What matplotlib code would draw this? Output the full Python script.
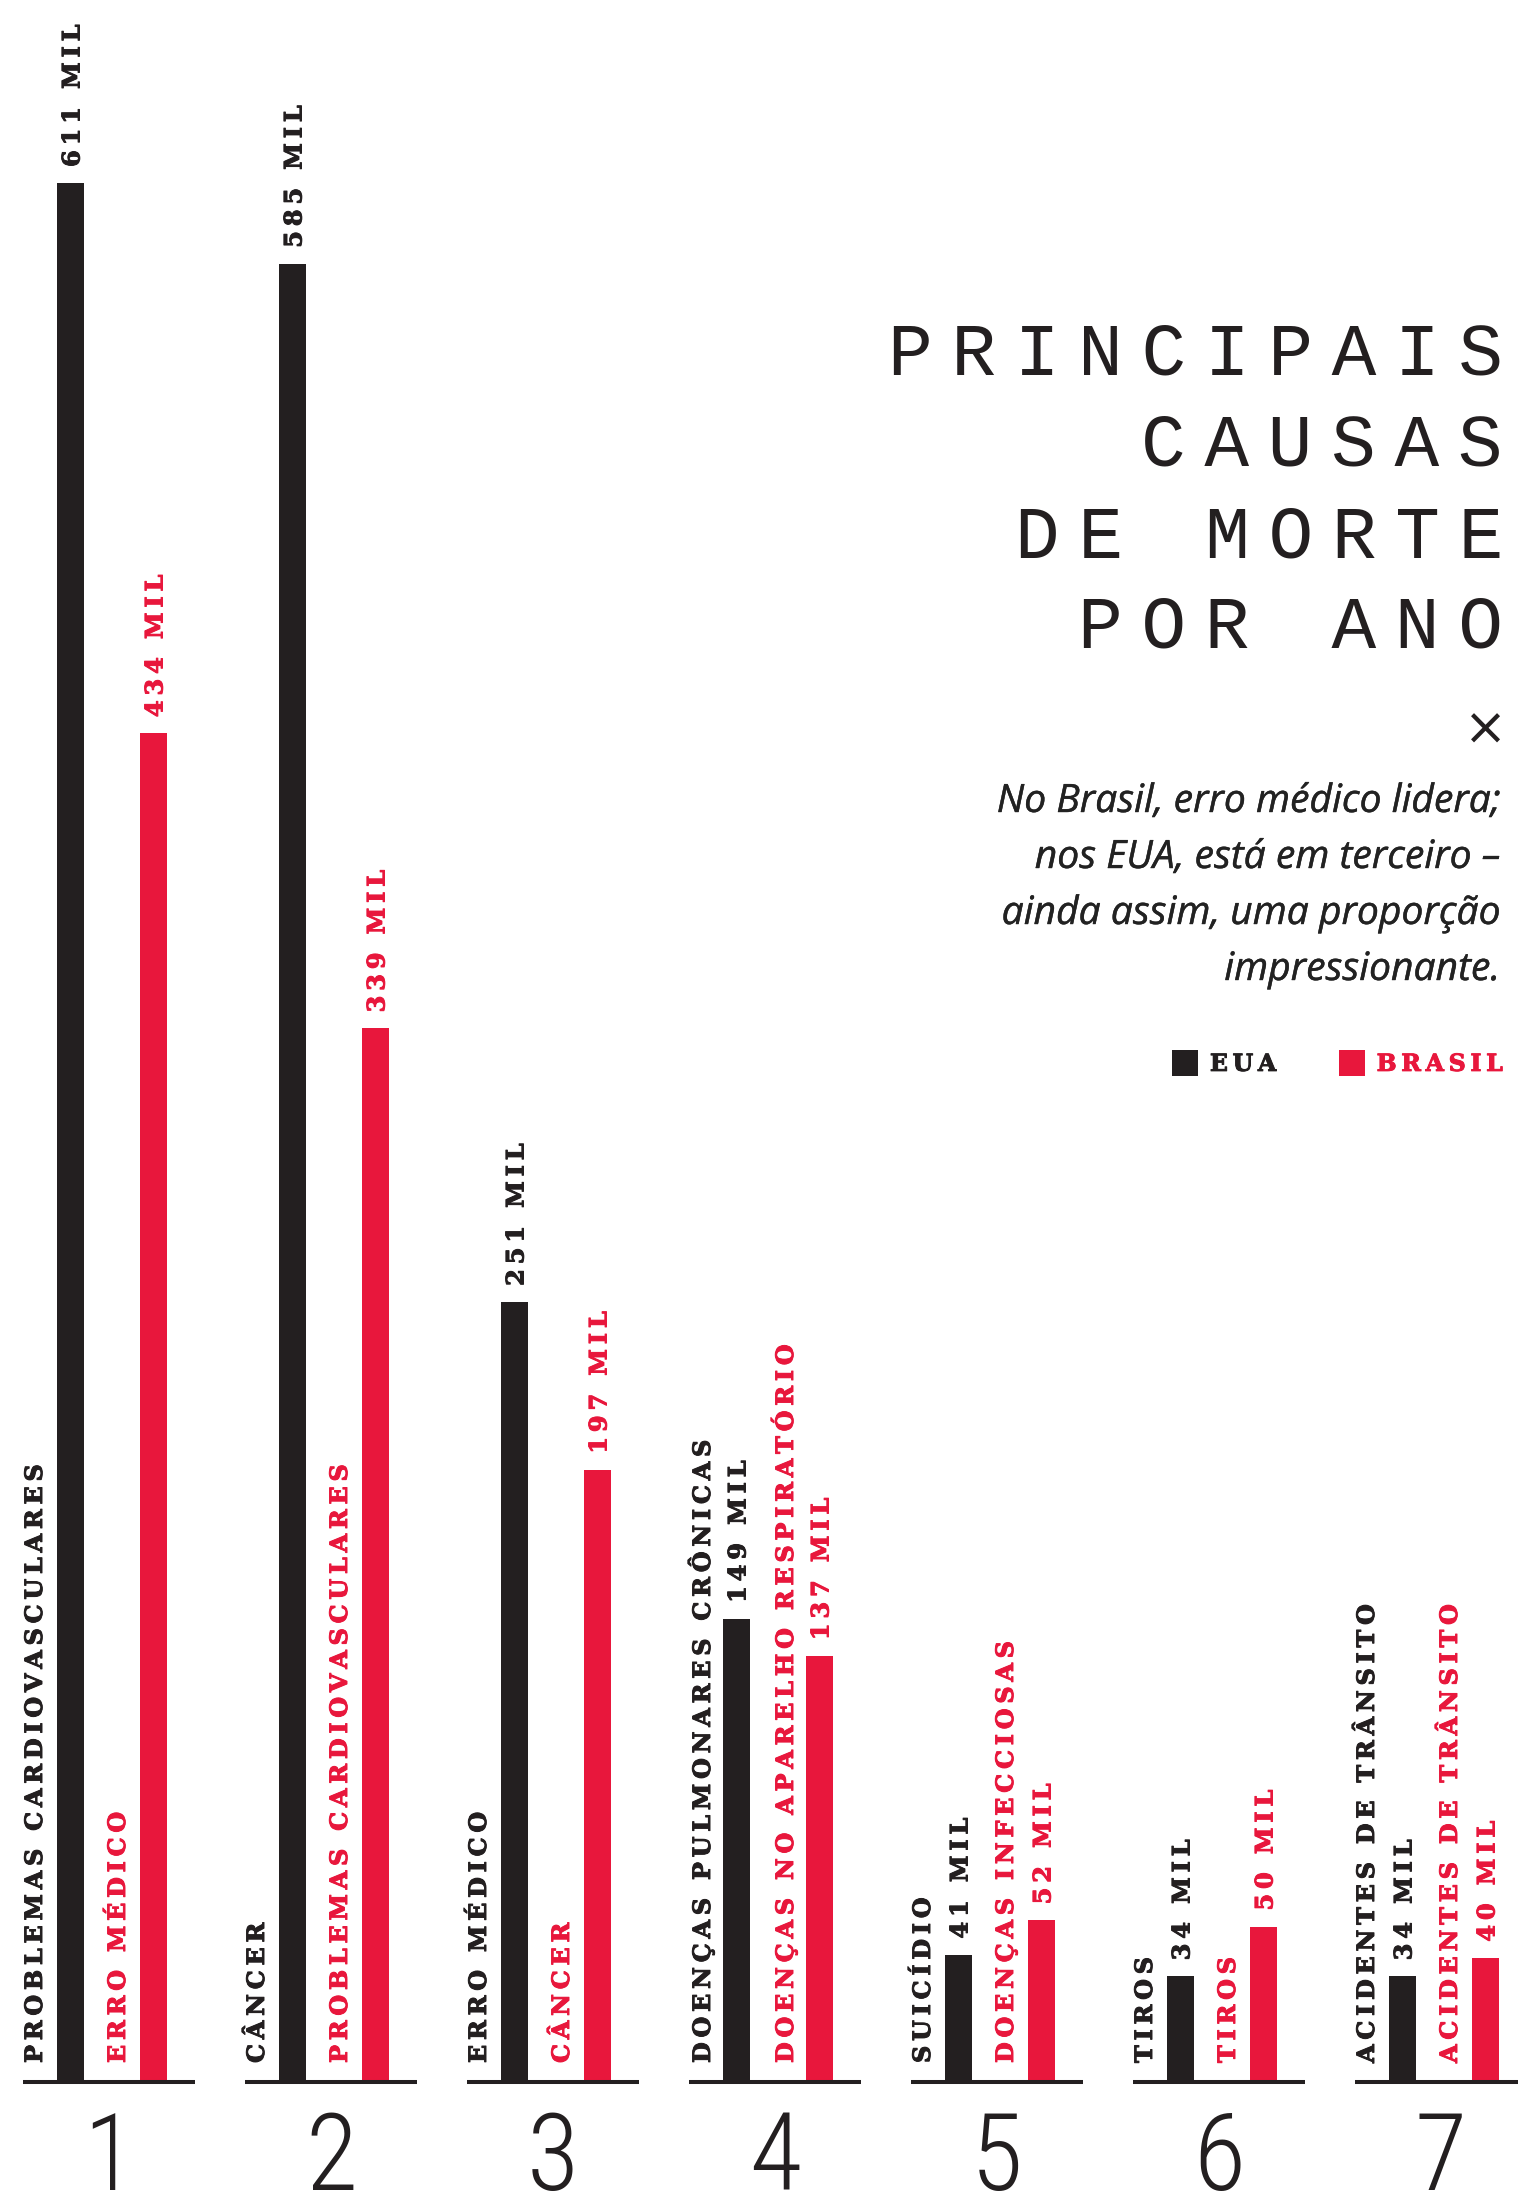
import matplotlib
matplotlib.use("Agg")
import matplotlib.pyplot as plt
from matplotlib.patches import Patch
import matplotlib.patheffects as pe
import numpy as np

# ---------------- data ----------------
ranks = ["1", "2", "3", "4", "5", "6", "7"]
causes_eua = ["PROBLEMAS CARDIOVASCULARES", "CÂNCER", "ERRO MÉDICO",
              "DOENÇAS PULMONARES CRÔNICAS", "SUICÍDIO", "TIROS",
              "ACIDENTES DE TRÂNSITO"]
causes_brasil = ["ERRO MÉDICO", "PROBLEMAS CARDIOVASCULARES", "CÂNCER",
                 "DOENÇAS NO APARELHO RESPIRATÓRIO", "DOENÇAS INFECCIOSAS",
                 "TIROS", "ACIDENTES DE TRÂNSITO"]
deaths_eua = [611, 585, 251, 149, 41, 34, 34]        # mil mortes por ano
deaths_brasil = [434, 339, 197, 137, 52, 50, 40]     # mil mortes por ano
value_suffix = "MIL"

title_lines = ["PRINCIPAIS", "CAUSAS", "DE MORTE", "POR ANO"]
subtitle_lines = ["No Brasil, erro médico lidera;",
                  "nos EUA, está em terceiro –",
                  "ainda assim, uma proporção",
                  "impressionante."]
legend_labels = ["EUA", "BRASIL"]

# ---------------- style ----------------
BLACK = "#231f20"
RED = "#e8173c"
SERIF = ["DejaVu Serif"]
TITLE_FONT = ["Liberation Mono", "DejaVu Sans"]
RANK_FONT = ["Open Sans Condensed Light", "Roboto Condensed",
             "Liberation Sans Narrow", "Open Sans Condensed", "Noto Sans"]

W, H, DPI = 1518, 2192, 100
fig = plt.figure(figsize=(W / DPI, H / DPI), dpi=DPI, facecolor="white")

BASE = 2082      # baseline, px from top
SCALE = 3.108    # px per thousand deaths
PITCH = 222      # px between groups
C0 = 109         # px of first group centre

ax = fig.add_axes([0, 0, 1, 1])
ax.set_xlim(-C0 / PITCH, (W - C0) / PITCH)
ax.set_ylim(-(H - BASE) / SCALE, BASE / SCALE)
ax.axis("off")


def px(p):
    return p / PITCH


def py(p):
    return p / SCALE


def fx(p):
    return p / W


def fy(p):
    return 1 - p / H


def track(s, sep="\u2009"):
    return sep.join(s)


x = np.arange(len(ranks))
xb = x - px(38.5)
xr = x + px(44.5)
bw = px(27)

ax.bar(xb, deaths_eua, width=bw, color=BLACK, linewidth=0, zorder=2)
ax.bar(xr, deaths_brasil, width=bw, color=RED, linewidth=0, zorder=2)
ax.hlines(np.zeros(len(x)), x - px(86), x + px(86), colors=BLACK,
          linewidth=2.9, zorder=3)

renderer = fig.canvas.get_renderer()


def bold_fx(color, lw=0.7):
    return [pe.withStroke(linewidth=lw, foreground=color)]


# category labels (left of each bar)
cat_texts = []
for xs, labels, color in ((xb, causes_eua, BLACK), (xr, causes_brasil, RED)):
    for xi, lab in zip(xs, labels):
        cat_texts.append(ax.text(xi - px(35.5), py(19), track(lab), rotation=90,
                                 ha="center", va="bottom", color=color,
                                 family=SERIF, weight="bold", fontsize=16,
                                 path_effects=bold_fx(color)))
h0 = cat_texts[0].get_window_extent(renderer).height
fs_cat = 16 * 601 / h0
for t in cat_texts:
    t.set_fontsize(fs_cat)

# value labels (above each bar)
val_texts = []
for xs, vals, color in ((xb, deaths_eua, BLACK), (xr, deaths_brasil, RED)):
    for xi, v in zip(xs, vals):
        val_texts.append(ax.text(xi + px(2), v + py(16), track(f"{v} {value_suffix}"),
                                 rotation=90, ha="center", va="bottom",
                                 color=color, family=SERIF, weight="bold",
                                 fontsize=16, path_effects=bold_fx(color)))
h1 = val_texts[1].get_window_extent(renderer).height
fs_val = 16 * 143 / h1
for t in val_texts:
    t.set_fontsize(fs_val)

# rank numbers
for xi, r in zip(x, ranks):
    ax.text(xi, -py(2190 - BASE), r, ha="center", va="baseline", color=BLACK,
            family=RANK_FONT, fontstretch="condensed", weight="light",
            fontsize=77)

# title (letter-spaced monospace)
title_base = [375, 466, 557, 648]
tt = [fig.text(fx(1503), fy(b), track(line, "\u2005"), ha="right",
               va="baseline", family=TITLE_FONT, fontsize=50, color=BLACK)
      for line, b in zip(title_lines, title_base)]
w0 = tt[0].get_window_extent(renderer).width
fs_t = 50 * 616 / w0
for t in tt:
    t.set_fontsize(fs_t)

# separator sign
fig.text(fx(1485), fy(745), "×", ha="center", va="baseline", color=BLACK,
         family="DejaVu Sans", fontsize=37)

# subtitle
sub_base = [812, 868, 924, 980]
st = [fig.text(fx(1500), fy(b), line, ha="right", va="baseline",
               family="Open Sans", style="italic", fontsize=22, color="#222222",
               path_effects=bold_fx("#222222", 0.3))
      for line, b in zip(subtitle_lines, sub_base)]
w1 = st[0].get_window_extent(renderer).width
fs_s = 22 * 503 / w1
for t in st:
    t.set_fontsize(fs_s)

# legend
leg = fig.legend(handles=[Patch(facecolor=BLACK, linewidth=0),
                          Patch(facecolor=RED, linewidth=0)],
                 labels=[track(l) for l in legend_labels],
                 loc="center right", bbox_to_anchor=(fx(1503), fy(1063)),
                 ncol=2, frameon=False,
                 prop=dict(family="DejaVu Serif", weight="bold", size=17),
                 handlelength=1.1, handleheight=1.32, handletextpad=0.5,
                 columnspacing=2.65, borderpad=0, borderaxespad=0)
for txt, c in zip(leg.get_texts(), [BLACK, RED]):
    txt.set_color(c)
    txt.set_path_effects(bold_fx(c))

fig.savefig("out.png", dpi=DPI, facecolor="white")
